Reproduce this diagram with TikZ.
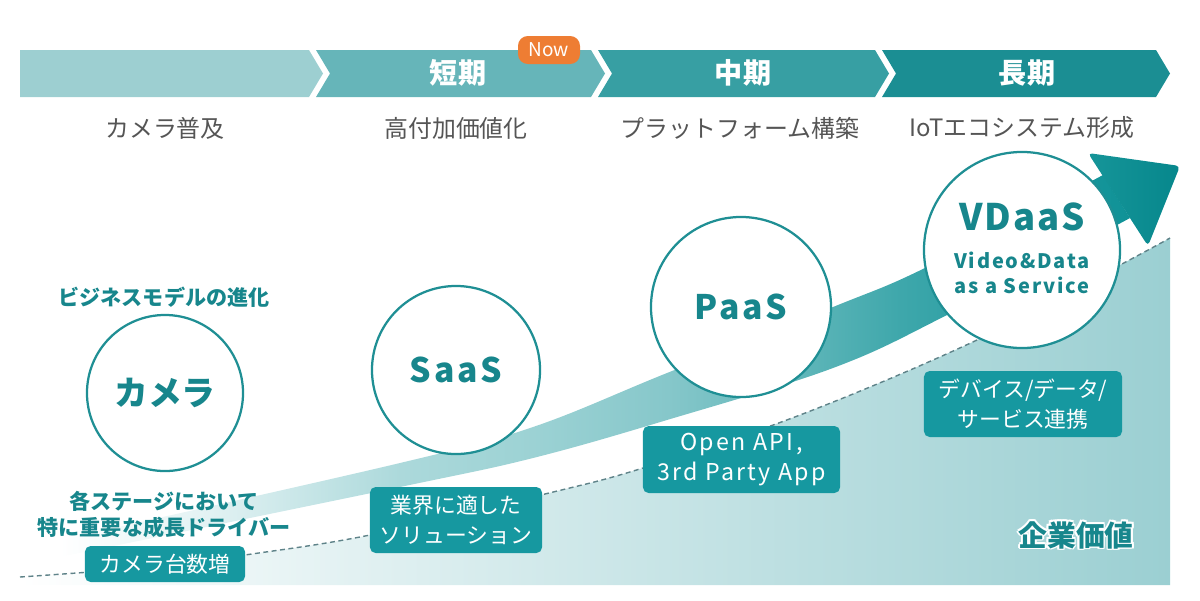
\documentclass[tikz,border=0pt]{standalone}
\usepackage{fontspec}
\setmainfont{Noto Sans CJK JP}
\definecolor{chevA}{HTML}{9DCFD1}
\definecolor{chevB}{HTML}{66B5B9}
\definecolor{chevC}{HTML}{379FA3}
\definecolor{chevD}{HTML}{1B8E93}
\definecolor{noworange}{HTML}{EE7D33}
\definecolor{graytxt}{HTML}{555555}
\definecolor{tealtxt}{HTML}{17868C}
\definecolor{ring}{HTML}{1F8F94}
\definecolor{boxfill}{HTML}{1698A0}
\definecolor{dashcol}{HTML}{5F8389}
\definecolor{areaR}{HTML}{9BCFD2}
\definecolor{bandA}{HTML}{E2F2F3}
\definecolor{bandB}{HTML}{ACD9DB}
\definecolor{bandC}{HTML}{9CD2D4}
\definecolor{bandD}{HTML}{86C7CA}
\definecolor{bandE}{HTML}{5FB6B9}
\definecolor{bandF}{HTML}{3EA7AB}
\definecolor{bandG}{HTML}{1A989D}
\definecolor{bandH}{HTML}{109297}
\definecolor{headL}{HTML}{169599}
\definecolor{headR}{HTML}{06878C}
\pgfdeclarehorizontalshading{bandshade}{100bp}{color(0bp)=(white); color(25bp)=(white); color(32bp)=(bandA); color(40.9bp)=(bandB); color(47.1bp)=(bandC); color(53.4bp)=(bandD); color(59.6bp)=(bandE); color(64.3bp)=(bandF); color(71.3bp)=(bandG); color(75bp)=(bandH); color(100bp)=(bandH)}
\newcommand\outlinetext[1]{\leavevmode
 \rlap{\color{white}\kern-1.2pt #1}\rlap{\color{white}\kern1.2pt #1}%
 \rlap{\color{white}\raisebox{1.2pt}{#1}}\rlap{\color{white}\raisebox{-1.2pt}{#1}}%
 \rlap{\color{white}\kern-0.9pt\raisebox{0.9pt}{#1}}\rlap{\color{white}\kern0.9pt\raisebox{0.9pt}{#1}}%
 \rlap{\color{white}\kern-0.9pt\raisebox{-0.9pt}{#1}}\rlap{\color{white}\kern0.9pt\raisebox{-0.9pt}{#1}}%
 #1}
\newcommand\spaced[1]{\addfontfeature{LetterSpace=#1}}
\tikzset{
  chevtxt/.style={text=white, font=\fontsize{20}{24}\selectfont\bfseries},
  sublabel/.style={text=graytxt, font=\fontsize{17}{20}\selectfont},
  bubble/.style={circle, draw=ring, line width=1.6pt, fill=white, inner sep=0pt, text=tealtxt},
  infobox/.style={rectangle, rounded corners=4pt, fill=boxfill, text=white, align=center, inner sep=0pt, font=\fontsize{15.5}{21.5}\selectfont},
  headtxt/.style={text=tealtxt, font=\fontsize{15}{17.8}\selectfont\bfseries, align=center},
  dashline/.style={draw=dashcol, line width=1pt, dash pattern=on 3.5pt off 2.5pt}
}
\begin{document}
\begin{tikzpicture}[x=0.025cm, y=-0.025cm]
\useasboundingbox (0,0) rectangle (1200,600);
% chevrons
\fill[chevA] (20,50) -- (309,50) -- (323,73.5) -- (309,97) -- (20,97) -- cycle;
\fill[chevB] (316,50) -- (591,50) -- (605,73.5) -- (591,97) -- (316,97) -- (330,73.5) -- cycle;
\fill[chevC] (598,50) -- (875,50) -- (889,73.5) -- (875,97) -- (598,97) -- (612,73.5) -- cycle;
\fill[chevD] (882,50) -- (1156,50) -- (1170,73.5) -- (1156,97) -- (882,97) -- (896,73.5) -- cycle;
\node[chevtxt] (short) at (458,73) {短期};
\node[chevtxt] (mid) at (743,73) {中期};
\node[chevtxt] (long) at (1027,73) {長期};
\node[fill=noworange, rounded corners=7pt, minimum width=1.55cm, minimum height=0.7cm, inner sep=0pt, text=white, font=\fontsize{13.5}{15}\selectfont] (now) at (549,50) {Now};
% sub labels
\node[sublabel] (s1) at (165,128) {カメラ普及};
\node[sublabel] (s2) at (456,128) {高付加価値化};
\node[sublabel] (s3) at (740,128) {プラットフォーム構築};
\node[sublabel] (s4) at (1022,128) {IoTエコシステム形成};
% value area
\shade[left color=white, right color=areaR] plot[smooth, tension=0.6] coordinates {(20,577) (165,566) (245,555) (370,535) (545,494) (643,468) (800,415) (977,340) (1120,265) (1170,238)} -- (1170,585) -- (20,585) -- cycle;
\draw[dashline] plot[smooth, tension=0.6] coordinates {(20,577) (165,566) (245,555) (370,535) (545,494) (643,468) (800,415) (977,340) (1120,265) (1170,238)};
% band arrow
\shade[shading=bandshade] plot[smooth, tension=0.6] coordinates {(60,540) (400,463) (533,427) (667,373) (833,307) (927,267) (1103,175)} -- plot[smooth, tension=0.6] coordinates {(1130,218) (947,315) (833,368) (667,420) (533,458) (400,487) (60,557)} -- cycle;
\shade[left color=headL, right color=headR, rounded corners=3pt] (1088,153) -- (1180,166) -- (1148,246) -- cycle;
% circles
\node[bubble, minimum size=3.9cm, font=\fontsize{24}{28}\selectfont\bfseries] (camera) at (165,393) {カメラ};
\node[bubble, minimum size=4.2cm, font=\fontsize{24}{28}\selectfont\bfseries] (saas) at (456,370) {\spaced{8}SaaS};
\node[bubble, minimum size=4.5cm, font=\fontsize{24}{28}\selectfont\bfseries] (paas) at (741,307) {\spaced{8}PaaS};
\node[bubble, minimum size=4.9cm] (vdaas) at (1022,250) {};
\node[text=tealtxt, font=\fontsize{26}{30}\selectfont\bfseries] (vdt) at (1022,217) {\spaced{5}VDaaS};
\node[text=tealtxt, font=\fontsize{14.2}{17.8}\selectfont\bfseries\spaced{9}, align=center] (vds) at (1022,273) {Video\&Data\\as a Service};
% headings
\node[headtxt] (bm) at (164,297) {ビジネスモデルの進化};
\node[headtxt] (drv) at (164,514.5) {各ステージにおいて\\特に重要な成長ドライバー};
% boxes
\node[infobox, minimum width=4cm, minimum height=0.9cm] (b1) at (165,564) {カメラ台数増};
\node[infobox, minimum width=4.3cm, minimum height=1.65cm] (b2) at (456,520) {業界に適した\\ソリューション};
\node[infobox, minimum width=4.925cm, minimum height=1.675cm, font=\fontsize{16.5}{21.5}\selectfont\spaced{10}] (b3) at (741.5,459.5) {Open API,\\3rd Party App};
\node[infobox, minimum width=4.95cm, minimum height=1.65cm] (b4) at (1023,404) {デバイス/データ/\\サービス連携};
% value label
\node[text=tealtxt, font=\fontsize{20.5}{24}\selectfont\bfseries] (val) at (1076,535) {\outlinetext{企業価値}};
\end{tikzpicture}
\end{document}
